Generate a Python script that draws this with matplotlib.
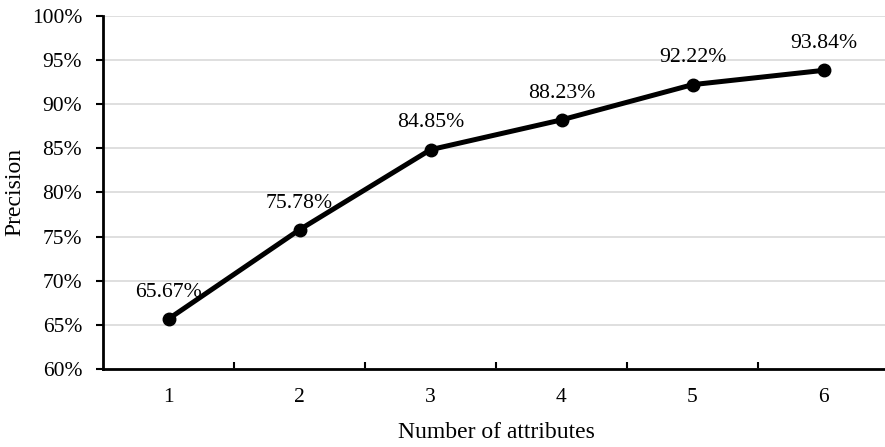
import matplotlib
matplotlib.use("Agg")
import matplotlib.pyplot as plt
from matplotlib.ticker import FixedLocator, PercentFormatter

plt.rcParams['font.family'] = ['Liberation Serif', 'DejaVu Serif']

attributes = [1, 2, 3, 4, 5, 6]
precision = [65.67, 75.78, 84.85, 88.23, 92.22, 93.84]
labels = ["65.67%", "75.78%", "84.85%", "88.23%", "92.22%", "93.84%"]
yticks = [60, 65, 70, 75, 80, 85, 90, 95, 100]

W, H = 885, 447
fig = plt.figure(figsize=(W / 100, H / 100), dpi=100)
left, right, top, bottom = 103, 889, 16, 369
ax = fig.add_axes([left / W, 1 - bottom / H, (right - left) / W, (bottom - top) / H])

ax.plot(attributes, precision, color='black', lw=3.6, marker='o', ms=9, zorder=3,
        solid_capstyle='round')
for x, y, t in zip(attributes, precision, labels):
    ax.annotate(t, (x, y), xytext=(0, 16), textcoords='offset points',
                ha='center', va='baseline', fontsize=15.7)

ax.set_xlim(0.5, 6.5)
ax.set_ylim(60, 100)
ax.set_yticks(yticks)
ax.yaxis.set_major_formatter(PercentFormatter(decimals=0))
ax.set_xticks(attributes)
ax.xaxis.set_minor_locator(FixedLocator([1.5, 2.5, 3.5, 4.5, 5.5]))
ax.tick_params(axis='x', which='major', length=0, pad=14, labelsize=15.5)
ax.tick_params(axis='x', which='minor', direction='in', length=5, width=1.5)
ax.tick_params(axis='y', which='major', direction='out', length=5, width=1.5, labelsize=15.5, pad=10)

ax.grid(axis='y', color='#d9d9d9', lw=1.2)
ax.set_axisbelow(True)
for s in ['top', 'right']:
    ax.spines[s].set_visible(False)
for s in ['left', 'bottom']:
    ax.spines[s].set_linewidth(2)
    ax.spines[s].set_zorder(4)

ax.set_ylabel("Precision", fontsize=17)
ax.yaxis.set_label_coords((25 - left) / (right - left), 0.5)
ax.set_xlabel("Number of attributes", fontsize=17)
ax.xaxis.set_label_coords(0.5, (bottom - 422) / (bottom - top))

fig.savefig("out.png", dpi=100)
